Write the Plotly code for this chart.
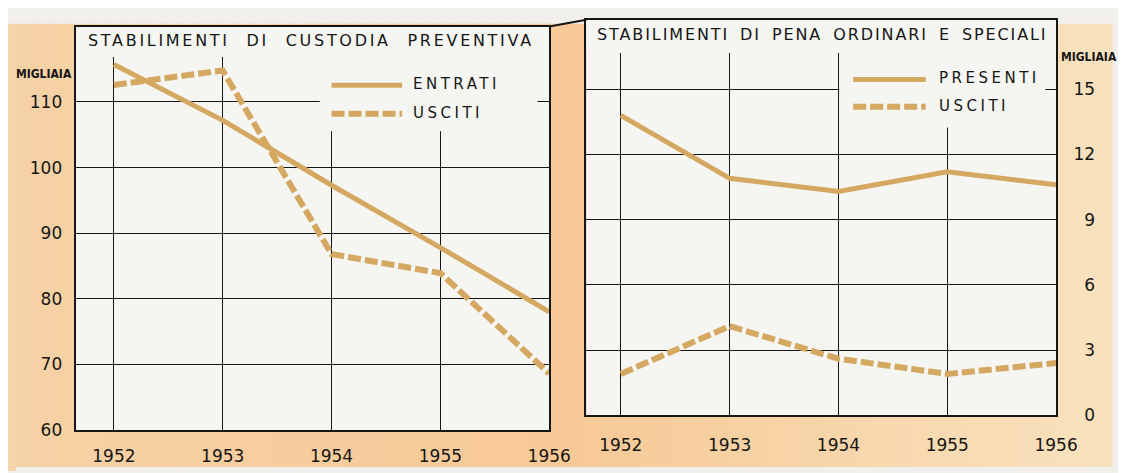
import plotly.graph_objects as go

# ---------------- data ----------------
years = [1952, 1953, 1954, 1955, 1956]
entrati = [115.7, 107.2, 97.3, 87.8, 78.0]
usciti_custodia = [112.6, 114.8, 86.8, 83.9, 68.6]
presenti = [13.8, 10.9, 10.3, 11.2, 10.6]
usciti_pena = [1.9, 4.1, 2.6, 1.9, 2.4]

left_yticks = [60, 70, 80, 90, 100, 110]
right_yticks = [0, 3, 6, 9, 12, 15]
year_labels = ["1952", "1953", "1954", "1955", "1956"]

title_left = "STABILIMENTI DI CUSTODIA PREVENTIVA"
title_right = "STABILIMENTI DI PENA ORDINARI E SPECIALI"
unit_label = "MIGLIAIA"
names_left = ["ENTRATI", "USCITI"]
names_right = ["PRESENTI", "USCITI"]

# ---------------- style / layout ----------------
W, H = 1126, 473
LINE_COL = "#D5A862"
INK = "#161616"
PLOT_BG = "#F5F5F2"
FONT = "DejaVu Sans"
DASH = "13px,4px"

def fx(p):
    return p / W

def fy(p):
    return 1 - p / H

# panel pixel boxes (left, right, top, bottom)
LX0, LX1, LY0, LY1 = 69, 552, 19, 431
RX0, RX1, RY0, RY1 = 590, 1069, 12, 416

L_PX_PER_YEAR = 111.0
L_X_START = 1952 - (108 - LX0) / L_PX_PER_YEAR
L_PX_PER_UNIT = 6.7
L_Y_TOP = 60 + (LY1 - LY0) / L_PX_PER_UNIT
R_PX_PER_YEAR = 111.0
R_X_START = 1952 - (625 - RX0) / R_PX_PER_YEAR
R_PX_PER_UNIT = 22.2
R_Y_TOP = (RY1 - RY0) / R_PX_PER_UNIT

def lx(p):
    return L_X_START + (p - LX0) / L_PX_PER_YEAR

def ly(p):
    return 60 + (LY1 - p) / L_PX_PER_UNIT

def rx(p):
    return R_X_START + (p - RX0) / R_PX_PER_YEAR

def ry(p):
    return (RY1 - p) / R_PX_PER_UNIT

fig = go.Figure()

fig.add_trace(go.Scatter(x=years, y=entrati, name=names_left[0], mode="lines",
                         line=dict(color=LINE_COL, width=5), xaxis="x", yaxis="y",
                         showlegend=False))
fig.add_trace(go.Scatter(x=years, y=usciti_custodia, name=names_left[1], mode="lines",
                         line=dict(color=LINE_COL, width=6, dash=DASH), xaxis="x", yaxis="y",
                         showlegend=False))
fig.add_trace(go.Scatter(x=years, y=presenti, name=names_right[0], mode="lines",
                         line=dict(color=LINE_COL, width=5), xaxis="x2", yaxis="y2",
                         showlegend=False))
fig.add_trace(go.Scatter(x=years, y=usciti_pena, name=names_right[1], mode="lines",
                         line=dict(color=LINE_COL, width=6, dash=DASH), xaxis="x2", yaxis="y2",
                         showlegend=False))

tick_font = dict(family=FONT, size=17, color=INK)
common_axis = dict(showline=True, mirror=True, linecolor=INK, linewidth=2,
                   showgrid=True, gridcolor=INK, gridwidth=1, zeroline=False,
                   ticks="", tickfont=tick_font, fixedrange=True)

fig.update_layout(
    width=W, height=H,
    margin=dict(l=0, r=0, t=0, b=0),
    paper_bgcolor="#F0EFEB",
    plot_bgcolor=PLOT_BG,
    showlegend=False,
    xaxis=dict(domain=[fx(LX0), fx(LX1)], range=[L_X_START, 1956], tickvals=years,
               ticktext=year_labels, ticklabelstandoff=10, anchor="y", **common_axis),
    yaxis=dict(domain=[fy(LY1), fy(LY0)], range=[60, L_Y_TOP], tickvals=left_yticks,
               ticklabelstandoff=8, anchor="x", **common_axis),
    xaxis2=dict(domain=[fx(RX0), fx(RX1)], range=[R_X_START, 1956], tickvals=years,
                ticktext=year_labels, ticklabelstandoff=13, anchor="y2", **common_axis),
    yaxis2=dict(domain=[fy(RY1), fy(RY0)], range=[0, R_Y_TOP], tickvals=right_yticks,
                ticktext=[("\u2007" + str(v)) if v < 10 else str(v) for v in right_yticks],
                side="right", ticklabelstandoff=12, anchor="x2", **common_axis),
)

shapes = []

# warm paper background (horizontal gradient made of thin strips)
def lerp(a, b, t):
    return tuple(round(a[i] + (b[i] - a[i]) * t) for i in range(3))

stops = [(0, (245, 210, 166)), (570, (247, 201, 150)), (W, (248, 226, 190))]
N = 60
x_start = 8
for i in range(N):
    x0 = x_start + (W - x_start) * i / N
    x1 = x_start + (W - x_start) * (i + 1) / N
    xm = (x0 + x1) / 2
    for (a, ca), (b, cb) in zip(stops[:-1], stops[1:]):
        if a <= xm <= b:
            c = lerp(ca, cb, (xm - a) / (b - a))
            break
    shapes.append(dict(type="rect", xref="paper", yref="paper", layer="below",
                       x0=fx(x0), x1=fx(x1 + 0.6), y0=fy(469), y1=fy(16),
                       fillcolor="rgb(%d,%d,%d)" % c, line=dict(width=0)))
shapes.append(dict(type="rect", xref="paper", yref="paper", layer="below",
                   x0=fx(0), x1=fx(x_start), y0=0, y1=fy(16),
                   fillcolor="rgb(245,212,170)", line=dict(width=0)))

# white card of each panel
for (a, b, t, u) in [(LX0, LX1, LY0, LY1), (RX0, RX1, RY0, RY1)]:
    shapes.append(dict(type="rect", xref="paper", yref="paper", layer="below",
                       x0=fx(a), x1=fx(b), y0=fy(u), y1=fy(t),
                       fillcolor=PLOT_BG, line=dict(width=0)))

# masks: gridlines are not drawn through the title and legend areas
mask = dict(type="rect", layer="between", fillcolor=PLOT_BG, line=dict(width=0))
shapes.append(dict(mask, xref="x", yref="y", x0=lx(LX0), x1=lx(LX1), y0=ly(50), y1=ly(LY0)))
shapes.append(dict(mask, xref="x", yref="y", x0=lx(318), x1=lx(540), y0=ly(126), y1=ly(50)))
shapes.append(dict(mask, xref="x2", yref="y2", x0=rx(RX0), x1=rx(RX1), y0=ry(46), y1=ry(RY0)))
shapes.append(dict(mask, xref="x2", yref="y2", x0=rx(848), x1=rx(1058), y0=ry(122), y1=ry(46)))

# top frame line continues across the gap between the two panels
shapes.append(dict(type="line", xref="paper", yref="paper", x0=fx(LX1), x1=fx(RX0),
                   y0=fy(LY0), y1=fy(RY0), line=dict(color=INK, width=2)))

# legend samples
def legend_sample(x0, x1, y, dash):
    shapes.append(dict(type="line", xref="paper", yref="paper", x0=fx(x0), x1=fx(x1),
                       y0=fy(y), y1=fy(y), layer="above",
                       line=dict(color=LINE_COL, width=6 if dash else 5,
                                 dash=DASH if dash else "solid")))

legend_sample(330, 402, 79, False)
legend_sample(330, 402, 108, True)
legend_sample(862, 936, 73, False)
legend_sample(862, 936, 101, True)

fig.update_layout(shapes=shapes)

def spaced(txt, ls, ws=0):
    return '<span style="letter-spacing:%spx;word-spacing:%spx">%s</span>' % (ls, ws, txt)

ann = []
ann.append(dict(text=spaced(title_left, 2.7, 9), x=fx(309), y=fy(33)))
ann.append(dict(text=spaced(title_right, 1.9, 4), x=fx(830), y=fy(27)))
for a in ann:
    a.update(xref="paper", yref="paper", showarrow=False, xanchor="center", yanchor="middle",
             font=dict(family=FONT, size=16, color=INK))

leg_font = dict(family=FONT, size=15, color=INK)
for txt, x, y in [(names_left[0], 411, 78), (names_left[1], 411, 107),
                  (names_right[0], 948, 72), (names_right[1], 948, 100)]:
    ann.append(dict(text=spaced(txt, 3.5), x=fx(x), y=fy(y), xref="paper", yref="paper",
                    showarrow=False, xanchor="left", yanchor="middle", font=leg_font))

unit_font = dict(family="Liberation Sans Narrow, DejaVu Sans Condensed, Arial Narrow, sans-serif",
                 size=12, color=INK, weight="bold")
ann.append(dict(text=unit_label, x=fx(67), y=fy(67), xref="paper", yref="paper",
                showarrow=False, xanchor="right", yanchor="middle", font=unit_font))
ann.append(dict(text=unit_label, x=fx(1072), y=fy(50), xref="paper", yref="paper",
                showarrow=False, xanchor="left", yanchor="middle", font=unit_font))

fig.update_layout(annotations=ann)

fig.write_html("out.html")
